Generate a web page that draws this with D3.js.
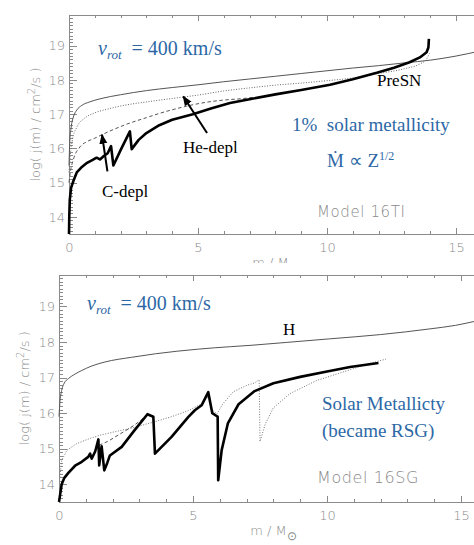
<!DOCTYPE html>
<html><head><meta charset="utf-8">
<script src="https://cdn.jsdelivr.net/npm/d3@7"></script>
<style>
html,body{margin:0;padding:0;background:#fff;}
svg{display:block;}
.axis path,.axis line{stroke:#8a8a8a;stroke-width:1;shape-rendering:crispEdges;}
.axis text{fill:#8a8a8a;font-family:"DejaVu Sans",sans-serif;font-weight:200;font-size:13px;}
.gray{fill:#8a8a8a;font-family:"DejaVu Sans",sans-serif;font-weight:200;}
.serif{font-family:"Liberation Serif","Times New Roman",serif;}
</style></head><body>
<svg id="chart" width="474" height="545"></svg>
<script>
// ---------- data ----------
const massTicks = [0, 5, 10, 15];
const logjTicks = [14, 15, 16, 17, 18, 19];

// Model 16TI : specific angular momentum profiles [m, log j]
const tiH = [[0,15.5],[0.03,16.2],[0.08,16.6],[0.17,16.92],[0.3,17.12],[0.5,17.26],[0.8,17.36],[1.2,17.45],[2,17.57],[3,17.69],[4,17.78],[5,17.86],[6,17.95],[7,18.03],[8,18.11],[9,18.19],[10,18.27],[11,18.35],[12,18.42],[13,18.5],[14,18.58],[15,18.7],[16,18.86]];
const tiHe = [[0,15.3],[0.05,15.8],[0.12,16.2],[0.3,16.62],[0.6,16.88],[1,17.04],[1.5,17.15],[2,17.24],[3,17.36],[4,17.46],[5,17.56],[6,17.68],[7,17.77],[8,17.85],[9,17.91],[10,17.98],[11,18.06],[12,18.19],[13,18.33],[13.6,18.47],[13.85,18.6],[13.97,18.78]];
const tiC = [[0,15.0],[0.05,15.3],[0.17,15.68],[0.43,16.05],[0.7,16.2],[1,16.3],[1.33,16.42],[2,16.64],[2.24,16.71],[3,16.9],[3.53,17.03],[4,17.13],[4.82,17.28],[5.5,17.37],[6.24,17.43],[6.63,17.45],[7.2,17.5]];
const tiPreSN = [[0,13.5],[0.01,14.0],[0.03,14.5],[0.08,14.85],[0.17,15.05],[0.3,15.3],[0.5,15.46],[0.7,15.58],[0.9,15.66],[1.07,15.73],[1.2,15.68],[1.35,15.78],[1.5,15.86],[1.63,16.07],[1.72,15.5],[2.0,15.95],[2.36,16.5],[2.43,15.98],[2.7,16.25],[3.0,16.45],[3.5,16.68],[4,16.84],[4.8,17.0],[5.5,17.17],[6.24,17.33],[7,17.44],[8,17.58],[9,17.71],[10.12,17.86],[11,18.02],[11.93,18.21],[12.6,18.36],[13.2,18.52],[13.6,18.66],[13.86,18.81],[13.93,18.95],[13.95,19.2]];

// Model 16SG
const sgH = [[0,15.9],[0.04,16.36],[0.1,16.64],[0.2,16.85],[0.35,16.97],[0.6,17.1],[0.85,17.2],[1.2,17.32],[1.72,17.44],[2.7,17.57],[3.6,17.67],[5.2,17.8],[6.4,17.87],[7.2,17.91],[8.5,17.99],[10.1,18.09],[12,18.21],[13.84,18.37],[14.8,18.47],[15.5,18.58],[16,18.66]];
const sgDotted = [[0.03,14.2],[0.1,14.67],[0.3,14.96],[0.66,15.14],[1.09,15.27],[1.53,15.38],[2.34,15.52],[2.77,15.59],[3.58,15.76],[4.2,15.9],[4.82,16.07],[5.32,16.26],[5.55,16.45],[5.7,16.1],[5.9,15.98],[6.1,16.25],[6.5,16.6],[7.0,16.78],[7.3,16.85],[7.47,16.94],[7.5,15.2],[7.7,15.7],[8.0,16.15],[8.62,16.55],[9.62,16.92],[10.86,17.22],[11.5,17.38],[12.2,17.52]];
const sgDashed = [[1.5,15.1],[1.8,15.2],[2.2,15.38],[2.84,15.68],[3.3,15.95]];
const sgFinal = [[0,13.5],[0.04,13.7],[0.1,14.0],[0.2,14.18],[0.35,14.32],[0.6,14.52],[0.85,14.63],[1.09,14.77],[1.16,14.86],[1.22,14.72],[1.35,14.92],[1.47,15.26],[1.5,14.53],[1.59,15.07],[1.69,14.39],[1.8,14.6],[1.9,14.81],[2.34,15.05],[2.8,15.5],[3.3,15.97],[3.52,15.9],[3.58,14.86],[4.2,15.33],[4.82,15.89],[5.07,16.08],[5.32,16.22],[5.57,16.59],[5.72,16.0],[5.88,15.92],[5.92,15.9],[5.94,14.11],[6.07,14.96],[6.3,15.71],[6.7,16.25],[7.3,16.62],[8,16.84],[9,17.02],[10,17.17],[10.86,17.3],[11.92,17.41]];

// depletion arrows, 16TI [from, to]
const tiArrows = [[[5.35,16.45],[4.43,17.52]], [[1.49,15.33],[1.28,16.40]]];

// ---------- drawing ----------
const svg = d3.select("#chart");
const blue = "#2d68a6";

svg.append("defs").append("marker")
  .attr("id","head").attr("viewBox","0 0 10 10")
  .attr("refX",9).attr("refY",5)
  .attr("markerWidth",5).attr("markerHeight",5)
  .attr("markerUnits","strokeWidth").attr("orient","auto")
  .append("path").attr("d","M0,1 L10,5 L0,9 Z").attr("fill","#000");

function panel(o) {
  const g = svg.append("g");
  if (o.clipY) {
    const id = "clip" + o.name;
    svg.select("defs").append("clipPath").attr("id", id)
      .append("rect").attr("x",0).attr("y",0).attr("width",474).attr("height",o.clipY);
    g.attr("clip-path", `url(#${id})`);
  }
  const x = d3.scaleLinear().domain([0,16]).range([o.x0, o.x0 + 16*o.px]);
  const y = d3.scaleLinear().domain([13.5,19.9]).range([o.yb, o.yt]);
  const minorM = d3.range(0,17,1);
  const minorJ = d3.range(0,65).map(i => +(13.5 + i*0.1).toFixed(2));

  // bottom axis
  g.append("g").attr("class","axis").attr("transform",`translate(0,${o.yb})`)
    .call(d3.axisBottom(x).tickValues(minorM).tickSize(-3).tickSizeOuter(0).tickFormat(""));
  g.append("g").attr("class","axis").attr("transform",`translate(0,${o.yb})`)
    .call(d3.axisBottom(x).tickValues(massTicks).tickSize(-6).tickSizeOuter(0).tickPadding(9).tickFormat(d3.format("d")));
  // top border
  g.append("g").attr("class","axis").attr("transform",`translate(0,${o.yt})`)
    .call(d3.axisTop(x).tickValues(minorM).tickSize(-3).tickSizeOuter(0).tickFormat(""));
  g.append("g").attr("class","axis").attr("transform",`translate(0,${o.yt})`)
    .call(d3.axisTop(x).tickValues(massTicks).tickSize(-6).tickSizeOuter(0).tickFormat(""));
  // left axis
  g.append("g").attr("class","axis").attr("transform",`translate(${o.x0},0)`)
    .call(d3.axisLeft(y).tickValues(minorJ).tickSize(-4).tickSizeOuter(0).tickFormat(""));
  g.append("g").attr("class","axis").attr("transform",`translate(${o.x0},0)`)
    .call(d3.axisLeft(y).tickValues(logjTicks).tickSize(-8).tickSizeOuter(0).tickPadding(4).tickFormat(d3.format("d")));

  const line = d3.line().x(d => x(d[0])).y(d => y(d[1]));
  const smooth = d3.line().x(d => x(d[0])).y(d => y(d[1])).curve(d3.curveMonotoneX);
  o.series.forEach(s => {
    g.append("path").datum(s.data)
      .attr("d", s.smooth ? smooth : line)
      .attr("fill","none").attr("stroke", s.color)
      .attr("stroke-width", s.width)
      .attr("stroke-dasharray", s.dash || null)
      .attr("stroke-linejoin","round");
  });
  (o.arrows || []).forEach(a => {
    g.append("line")
      .attr("x1", x(a[0][0])).attr("y1", y(a[0][1]))
      .attr("x2", x(a[1][0])).attr("y2", y(a[1][1]))
      .attr("stroke","#000").attr("stroke-width",2).attr("marker-end","url(#head)");
  });

  // axis titles
  const yt = g.append("text").attr("class","gray").attr("font-size",13)
    .attr("text-anchor","middle")
    .attr("transform",`translate(${o.ytx},${(o.yb+o.yt)/2}) rotate(-90)`);
  yt.append("tspan").text("log(  j(m)  /  cm");
  yt.append("tspan").attr("dy",-5).attr("font-size",10).text("2");
  yt.append("tspan").attr("dy",5).text("/s )");
  const xt = g.append("text").attr("class","gray").attr("font-size",13)
    .attr("text-anchor","middle").attr("x", x(8)).attr("y", o.yb + 33);
  xt.append("tspan").text("m  /  M");
  xt.append("tspan").attr("dy",5).attr("font-size",12).text("\u2299");

  // rotation speed label
  const vr = g.append("text").attr("class","serif").attr("fill",blue).attr("font-size",20)
    .attr("x", o.vx).attr("y", o.vy).attr("xml:space","preserve");
  vr.append("tspan").attr("font-style","italic").text("v");
  vr.append("tspan").attr("font-style","italic").attr("font-size",13).attr("dy",4).text("rot");
  vr.append("tspan").attr("dy",-4).text("  = 400 km/s");

  g.append("text").attr("class","gray").attr("font-size",o.modelSize)
    .attr("letter-spacing",0.6)
    .attr("x",317).attr("y",o.modelY).text(o.model);
  return {g, x, y};
}

const panelTI = panel({
  name:"ti", x0:69, px:25.8, yb:234, yt:15, ytx:40, clipY:263,
  vx:98, vy:55, model:"Model 16TI", modelY:217, modelSize:15,
  series:[
    {data:tiH, color:"#555", width:1, smooth:true},
    {data:tiHe, color:"#666", width:1, dash:"1,1.6", smooth:true},
    {data:tiC, color:"#555", width:1, dash:"3.5,2.5", smooth:true},
    {data:tiPreSN, color:"#000", width:2.6}
  ],
  arrows: tiArrows
});
panelTI.g.append("text").attr("class","serif").attr("font-size",17).attr("x",377).attr("y",86).text("PreSN");
panelTI.g.append("text").attr("class","serif").attr("font-size",17).attr("x",183).attr("y",153).text("He-depl");
panelTI.g.append("text").attr("class","serif").attr("font-size",17).attr("x",102).attr("y",197).text("C-depl");
panelTI.g.append("text").attr("class","serif").attr("font-size",19).attr("fill",blue)
  .attr("x",292).attr("y",131).attr("xml:space","preserve").text("1%  solar metallicity");
const mdot = panelTI.g.append("text").attr("class","serif").attr("font-size",19).attr("fill",blue)
  .attr("x",327).attr("y",167);
mdot.append("tspan").text("\u1E40 \u221D Z");
mdot.append("tspan").attr("font-size",12).attr("dy",-7).text("1/2");

const panelSG = panel({
  name:"sg", x0:59, px:26.8, yb:502, yt:274.5, ytx:29,
  vx:87, vy:310, model:"Model 16SG", modelY:483, modelSize:16,
  series:[
    {data:sgH, color:"#555", width:1, smooth:true},
    {data:sgDotted, color:"#777", width:1, dash:"1,1.6"},
    {data:sgDashed, color:"#555", width:1, dash:"3.5,2.5", smooth:true},
    {data:sgFinal, color:"#000", width:2.6}
  ]
});
panelSG.g.append("text").attr("class","serif").attr("font-size",17).attr("x",283).attr("y",335).text("H");
panelSG.g.append("text").attr("class","serif").attr("font-size",19).attr("fill",blue)
  .attr("x",322).attr("y",410).text("Solar Metallicty");
panelSG.g.append("text").attr("class","serif").attr("font-size",19).attr("fill",blue)
  .attr("x",322).attr("y",437).text("(became RSG)");
</script>
</body></html>
